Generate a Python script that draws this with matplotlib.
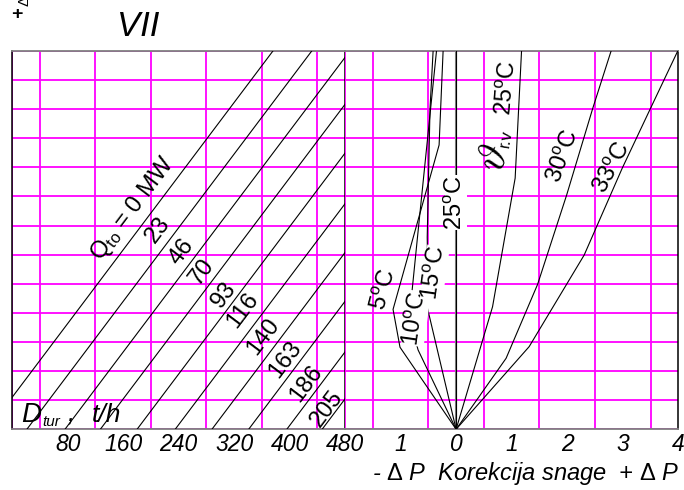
import matplotlib
matplotlib.use('Agg')
import matplotlib.pyplot as plt
import numpy as np

plt.rcParams['font.family'] = ['Liberation Sans', 'DejaVu Sans']
plt.rcParams['mathtext.fontset'] = 'custom'
plt.rcParams['mathtext.rm'] = 'Liberation Sans'
plt.rcParams['mathtext.it'] = 'Liberation Sans:italic'
plt.rcParams['mathtext.bf'] = 'Liberation Sans:bold'

# ---------------- data ----------------
# left panel: steam flow D_tur (t/h), lines of constant heat load Q_to (MW)
flow_ticks = [80, 160, 240, 320, 400, 480]
q_labels = ['0', '23', '46', '70', '93', '116', '140', '163', '186', '205']
d_bottom = [-35, 21, 76, 127, 180, 235, 288, 341, 396, 447]   # D at bottom of grid
d_top = [376, 432, 487, 538, 591, 646, 699, 752, 807, 858]    # D at top of grid
y_bottom, y_top = 0, 13

# right panel: power correction dP vs. cooling water temperature
corr_ticks = [-1, 0, 1, 2, 3, 4]
corr_tick_labels = ['1', '0', '1', '2', '3', '4']

t5_x = [0, -1.01, -1.135, -0.306, -0.234]
t5_y = [0, 2.82, 4.12, 9.77, 13]
t10_x = [0, -0.685, -0.85, -0.80, -0.70, -0.46, -0.353]
t10_y = [0, 2.73, 3.93, 4.62, 6.51, 11.0, 13]
t15_x = [0, -0.50, -0.52, -0.47, -0.414]
t15_y = [0, 4.04, 6.6, 11.0, 13]
t25v_x = [0, 0]
t25v_y = [0, 13]
t25_x = [0, 0.656, 1.063, 1.178]
t25_y = [0, 4.21, 8.63, 13]
t30_x = [0, 0.90, 1.467, 1.99, 2.46, 2.79]
t30_y = [0, 2.44, 4.98, 8.05, 11.03, 13]
t33_x = [0, 1.315, 2.306, 2.99, 3.50, 3.99]
t33_y = [0, 2.84, 5.99, 8.97, 11.03, 13]

# ---------------- figure ----------------
W, H = 684, 490
fig = plt.figure(figsize=(W / 100, H / 100), dpi=100)
fig.patch.set_facecolor('white')

top_px, bot_px = 51, 429.3
l1, r1, r2 = 12.3, 345.0, 678.3
ax1 = fig.add_axes([l1 / W, 1 - bot_px / H, (r1 - l1) / W, (bot_px - top_px) / H])
ax2 = fig.add_axes([r1 / W, 1 - bot_px / H, (r2 - r1) / W, (bot_px - top_px) / H])

grid_col = '#ff00ff'
for ax, xmin, xmax, step in [(ax1, 0, 480, 40), (ax2, -2, 4, 0.5)]:
    ax.set_xlim(xmin, xmax)
    ax.set_ylim(y_bottom, y_top)
    ax.set_xticks(np.arange(xmin, xmax + step / 2, step), minor=True)
    ax.set_yticks(np.arange(y_bottom, y_top + 0.5, 1), minor=True)
    ax.set_yticks([])
    ax.grid(which='minor', color=grid_col, lw=1.3, zorder=0)
    ax.tick_params(which='both', length=0)
    ax.tick_params(axis='x', which='major', pad=2.5)
    for s in ['top', 'bottom']:
        ax.spines[s].set_color('#808080')
        ax.spines[s].set_linewidth(1.3)
    ax.spines['left'].set_color('black')
    ax.spines['right'].set_color('black')
    ax.spines['left'].set_linewidth(1.1)
    ax.spines['right'].set_linewidth(1.1)
    ax.set_axisbelow(True)

ax2.spines['left'].set_visible(False)

ax1.set_xticks(flow_ticks)
ax1.set_xticklabels([str(v) for v in flow_ticks], fontstyle='italic', fontsize=16.5)
ax2.set_xticks(corr_ticks)
ax2.set_xticklabels(corr_tick_labels, fontstyle='italic', fontsize=16.5)

# left panel lines
for db, dt in zip(d_bottom, d_top):
    ax1.plot([db, dt], [y_bottom, y_top], color='black', lw=0.8, zorder=3)

q_text = [r'Q$_\mathrm{to}$ = 0 MW'] + q_labels[1:]
q_pos = [(174.5, 7.59), (210, 6.85), (244.3, 6.10), (273.2, 5.42), (305, 4.62),
         (332.7, 4.10), (361.6, 3.18), (393.3, 2.38), (424.6, 1.58), (453.5, 0.72)]
for txt, (xx, yy) in zip(q_text, q_pos):
    ax1.text(xx, yy, txt, rotation=53, ha='center', va='center', fontsize=17,
             rotation_mode='anchor', zorder=4)

ax1.text(13, 0.26, 'D', fontsize=20, style='italic', ha='left', va='baseline', zorder=4)
ax1.text(43, 0.13, 'tur', fontsize=11, style='italic', ha='left', va='baseline', zorder=4)
ax1.text(80, 0.26, ',', fontsize=18, style='italic', ha='left', va='baseline', zorder=4)
ax1.text(114, 0.26, 't/h', fontsize=19, style='italic', ha='left', va='baseline', zorder=4)

# right panel
ax2.plot([0, 0], [0, 13], color='#808080', lw=1.5, zorder=2)
for xs, ys in [(t5_x, t5_y), (t10_x, t10_y), (t15_x, t15_y), (t25v_x, t25v_y),
               (t25_x, t25_y), (t30_x, t30_y), (t33_x, t33_y)]:
    ax2.plot(xs, ys, color='black', lw=0.8, zorder=3)

deg = r'$^\mathrm{o}$C'
bb = dict(facecolor='white', edgecolor='none', pad=0.1)
fs = 17
ax2.text(-1.285, 4.79, '5' + deg, rotation=75, ha='center', va='center', fontsize=fs, zorder=4)
ax2.text(-0.72, 3.81, '10' + deg, rotation=82, ha='center', va='center', fontsize=fs, bbox=bb, zorder=4)
ax2.text(-0.384, 5.36, '15' + deg, rotation=82, ha='center', va='center', fontsize=fs, bbox=bb, zorder=4)
ax2.text(0.0, 7.78, '25' + deg, rotation=90, ha='center', va='center', fontsize=fs, bbox=bb, zorder=4)
ax2.text(0.926, 11.72, '25' + deg, rotation=85, ha='center', va='center', fontsize=fs, zorder=4)
ax2.text(0.70, 9.3, r'$\vartheta$', rotation=70, ha='center', va='center', fontsize=30,
         math_fontfamily='cm', zorder=4)
ax2.text(0.90, 10.0, 'r.v', rotation=80, ha='center', va='center', fontsize=12, zorder=4)
ax2.text(1.946, 9.37, '30' + deg, rotation=70, ha='center', va='center', fontsize=fs, zorder=4)
ax2.text(2.818, 8.97, '33' + deg, rotation=62, ha='center', va='center', fontsize=fs, zorder=4)

# figure texts
fig.text(138 / W, 1 - 26 / H, 'VII', fontsize=25, style='italic', ha='center', va='center')
fig.text(17 / W, 1 - 15 / H, '+', fontsize=14, fontweight='bold', ha='center', va='center')
fig.text(25 / W, 1 - 1 / H, r'$\Delta$', fontsize=11, rotation=90, ha='center', va='center')
fig.text(526 / W, 1 - 473 / H, r'- $\Delta$ P  Korekcija snage  + $\Delta$ P', fontsize=17,
         style='italic', ha='center', va='center')

fig.savefig('out.png', dpi=100, facecolor='white')
